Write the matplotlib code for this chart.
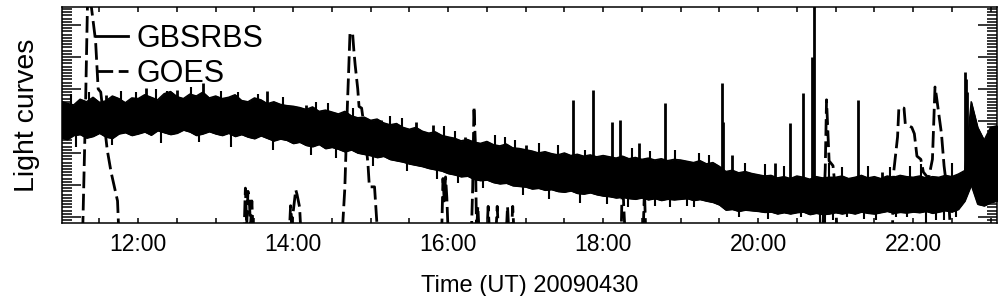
import numpy as np
import pandas as pd
import matplotlib
matplotlib.use("Agg")
import matplotlib.pyplot as plt
import matplotlib.dates as mdates
import matplotlib.ticker as mticker
from matplotlib.lines import Line2D

plt.rcParams['font.family'] = ['Liberation Sans', 'DejaVu Sans']

DAY = "2009-04-30 "

def tm(lst):
    return pd.to_datetime([DAY + s for s in lst])

# GBSRBS: band envelope sampled every 5 min (11:00 .. 23:05), arbitrary units
gbs_time = pd.date_range(DAY + "11:00", DAY + "23:05", freq="5min")
gbs_hi = [
    3.62, 3.55, 3.50, 3.68, 3.60, 3.74, 3.58, 3.63, 3.78, 3.70, 3.57, 3.72,
    3.70, 3.82, 3.74, 3.66, 3.85, 3.92, 3.76, 3.70, 3.84, 3.78, 3.90, 3.72,
    3.78, 3.70, 3.74, 3.82, 3.64, 3.60, 3.72, 3.66, 3.54, 3.60, 3.52, 3.48,
    3.46, 3.42, 3.36, 3.44, 3.30, 3.34, 3.28, 3.22, 3.30, 3.16, 3.10, 3.12,
    3.02, 3.06, 2.94, 2.88, 2.92, 2.80, 2.74, 2.80, 2.68, 2.62, 2.66, 2.55,
    2.50, 2.46, 2.38, 2.42, 2.34, 2.30, 2.36, 2.26, 2.22, 2.28, 2.16, 2.14,
    2.10, 2.06, 2.00, 2.04, 1.98, 1.94, 2.00, 1.92, 1.96, 1.90, 1.94, 1.88,
    1.92, 1.88, 1.84, 1.90, 1.82, 1.86, 1.80, 1.84, 1.78, 1.82, 1.76, 1.80,
    1.78, 1.74, 1.70, 1.76, 1.66, 1.70, 1.58, 1.42, 1.46, 1.38, 1.42, 1.36,
    1.32, 1.28, 1.30, 1.22, 1.26, 1.20, 1.28, 1.24, 1.18, 1.26, 1.22, 1.24,
    1.24, 1.28, 1.20, 1.24, 1.30, 1.22, 1.26, 1.20, 1.28, 1.24, 1.30, 1.26,
    1.24, 1.28, 1.22, 1.26, 1.24, 1.30, 1.26, 1.34, 1.45, 3.60, 2.80, 2.40,
    2.80, 2.85,
]
gbs_lo = [
    2.48, 2.42, 2.55, 2.58, 2.47, 2.52, 2.62, 2.50, 2.46, 2.60, 2.64, 2.55,
    2.60, 2.66, 2.56, 2.70, 2.64, 2.58, 2.62, 2.72, 2.66, 2.55, 2.60, 2.67,
    2.60, 2.55, 2.62, 2.52, 2.58, 2.50, 2.45, 2.54, 2.46, 2.38, 2.44, 2.40,
    2.30, 2.34, 2.24, 2.20, 2.27, 2.14, 2.18, 2.12, 2.04, 2.10, 2.00, 1.96,
    1.92, 1.86, 1.90, 1.80, 1.76, 1.72, 1.66, 1.62, 1.58, 1.52, 1.48, 1.44,
    1.36, 1.32, 1.26, 1.28, 1.18, 1.14, 1.16, 1.08, 1.04, 1.06, 0.98, 0.96,
    0.94, 0.88, 0.90, 0.84, 0.86, 0.80, 0.78, 0.82, 0.74, 0.72, 0.76, 0.70,
    0.66, 0.64, 0.60, 0.62, 0.58, 0.56, 0.60, 0.54, 0.58, 0.52, 0.56, 0.54,
    0.56, 0.58, 0.52, 0.55, 0.50, 0.46, 0.38, 0.22, 0.24, 0.18, 0.22, 0.20,
    0.18, 0.15, 0.16, 0.10, 0.14, 0.10, 0.14, 0.16, 0.08, 0.12, 0.08, 0.10,
    0.14, 0.10, 0.14, 0.10, 0.16, 0.12, 0.10, 0.14, 0.18, 0.12, 0.15, 0.13,
    0.16, 0.14, 0.18, 0.12, 0.16, 0.20, 0.16, 0.24, 0.50, 1.00, 0.40, 0.35,
    0.45, 0.50,
]

# GBSRBS large spikes (time, from, to)
spike_time = ["11:35", "12:06", "12:30", "12:50", "13:40", "14:10", "15:08",
              "15:35", "15:48", "16:13", "17:00", "17:37", "17:52", "18:07",
              "18:13", "18:28", "18:48", "19:32", "19:33", "19:40", "20:13",
              "20:25", "20:35", "20:42", "20:43", "21:17", "21:36", "22:40",
              "22:41", "22:42"]
spike_base = [3.0, 3.1, 3.1, 3.1, 3.0, 2.8, 2.4, 2.2, 2.0, 1.8, 1.5, 1.3,
              1.3, 1.2, 1.2, 1.2, 1.1, 0.8, 0.8, 0.8, 0.7, 0.7, 0.7, 0.7,
              0.7, 0.7, 0.7, 0.8, 0.8, 1.0]
spike_top = [3.80, 4.03, 3.97, 4.19, 3.95, 3.50, 3.03, 2.97, 2.88, 2.50,
             2.25, 3.66, 3.97, 2.97, 3.03, 2.31, 3.56, 4.19, 2.97, 1.94,
             1.69, 2.94, 3.88, 5.00, 6.90, 3.66, 1.40, 4.53, 4.30, 3.90]

# GBSRBS small noise bumps above the band
bump_time = ["11:08", "11:22", "11:47", "11:58", "12:14", "12:22", "12:41",
             "13:04", "13:17", "13:33", "13:52", "14:18", "14:27", "14:46",
             "15:15", "15:24", "15:57", "16:05", "16:36", "16:44", "16:52",
             "17:10", "17:25", "17:46", "18:22", "18:36", "18:56", "19:14",
             "19:22", "19:50", "20:05", "20:20", "20:55", "21:05", "21:25",
             "21:42", "21:58", "22:06", "22:30"]
bump_base = [3.3, 3.3, 3.3, 3.4, 3.4, 3.4, 3.4, 3.4, 3.3, 3.3, 3.2, 3.1,
             3.0, 2.9, 2.7, 2.6, 2.3, 2.2, 2.0, 1.9, 1.9, 1.8, 1.7, 1.6,
             1.6, 1.5, 1.5, 1.4, 1.4, 1.0, 1.0, 1.0, 1.0, 1.0, 1.0, 1.0,
             1.0, 1.0, 1.0]
bump_top = [3.85, 3.90, 3.95, 3.90, 4.00, 3.95, 4.05, 3.95, 3.90, 3.85,
            3.75, 3.60, 3.55, 3.40, 3.15, 3.10, 2.85, 2.70, 2.55, 2.50,
            2.40, 2.30, 2.25, 2.10, 2.15, 2.05, 2.10, 2.00, 1.95, 1.70,
            1.65, 1.60, 1.70, 1.55, 1.60, 1.55, 1.60, 1.65, 1.70]

# GBSRBS downward dips
dip_time = ["11:12", "11:40", "12:18", "12:47", "13:12", "13:44", "14:14",
            "14:33", "15:02", "15:28", "15:51", "16:08", "16:27", "16:58",
            "17:18", "17:42", "18:03", "18:19", "18:40", "18:52", "19:05",
            "19:10", "19:45", "20:08", "20:33", "20:48", "20:52", "20:58",
            "21:09", "21:22", "21:31", "21:47", "21:55", "22:10", "22:18",
            "22:24", "22:33"]
dip_bottom = [2.20, 2.25, 2.30, 2.35, 2.20, 2.10, 1.95, 1.85, 1.60, 1.45,
              1.20, 1.05, 0.90, 0.70, 0.55, 0.45, 0.40, 0.30, 0.35, 0.30,
              0.35, 0.30, 0.00, -0.05, 0.00, -0.20, -0.20, -0.10, 0.00,
              -0.05, -0.10, 0.00, 0.00, -0.20, -0.10, -0.10, 0.00]
dip_top = [2.7, 2.7, 2.8, 2.8, 2.7, 2.6, 2.5, 2.4, 2.1, 1.9, 1.7, 1.5,
           1.4, 1.1, 1.0, 0.9, 0.8, 0.8, 0.8, 0.8, 0.8, 0.8, 0.5, 0.5,
           0.5, 0.5, 0.5, 0.5, 0.5, 0.5, 0.5, 0.5, 0.5, 0.5, 0.5, 0.5, 0.5]

# GOES (values below the plot range are off scale)
goes_time = ["11:00", "11:17", "11:19", "11:21", "11:23", "11:27", "11:29",
             "11:31", "11:36", "11:39", "11:44", "11:45",
             "13:22", "13:23", "13:24", "13:25", "13:26", "13:27", "13:28", "13:29",
             "13:57", "13:58", "13:59", "14:01", "14:02", "14:03", "14:05", "14:06",
             "14:38", "14:40", "14:42", "14:43", "14:44", "14:46", "14:47", "14:48",
             "14:50", "14:51", "14:53", "14:56", "14:58", "14:59", "15:03", "15:05",
             "15:06",
             "15:55", "15:56", "15:57", "15:58", "15:59", "16:00",
             "16:18", "16:19", "16:20", "16:21", "16:22", "16:23", "16:24",
             "16:30", "16:31", "16:32", "16:37", "16:38", "16:39",
             "16:45", "16:46", "16:47", "16:49", "16:50", "16:51",
             "18:14", "18:15", "18:16", "18:17", "18:31", "18:32", "18:33",
             "20:50", "20:52", "20:53", "20:55", "20:58", "21:00", "21:01",
             "21:44", "21:45", "21:48", "21:49", "21:53", "21:54", "21:59",
             "22:01", "22:03", "22:06", "22:08", "22:12", "22:15", "22:17",
             "22:18", "22:20", "22:22", "22:24", "22:27", "22:28", "22:29",
             "23:05"]
goes_val = [-0.5, -0.5, 3.0, 7.2, 6.8, 5.5, 4.0,
            3.9, 2.1, 1.4, 0.5, -0.5,
            -0.5, 0.9, -0.3, 0.8, 0.55, -0.3, 0.5, -0.5,
            -0.5, 0.35, -0.2, 0.5, 0.85, 0.7, 0.3, -0.5,
            -0.5, 0.9, 3.5, 4.6, 5.75, 5.75, 5.2, 4.75,
            4.0, 3.45, 3.4, 2.5, 1.6, 0.94, 0.94, -0.3,
            -0.5,
            -0.5, 1.2, 0.5, 1.25, 0.6, -0.5,
            -0.5, 0.9, 3.45, 2.4, -0.5, 0.33, -0.5,
            -0.5, 0.33, -0.5, -0.5, 0.33, -0.5,
            -0.5, 0.33, -0.5, -0.5, 0.33, -0.5,
            -0.5, 1.4, 0.3, -0.5, -0.5, 0.85, -0.5,
            -0.5, 1.5, 3.66, 1.75, 1.6, 0.8, -0.5,
            -0.5, 1.4, 2.5, 3.4, 3.4, 2.9, 2.8,
            2.6, 1.9, 1.8, 1.4, 1.2, 1.8, 4.06,
            3.8, 3.2, 2.6, 1.6, 0.6, 0.25, -0.5,
            -0.5]

fig = plt.figure(figsize=(10.04, 2.96), dpi=100)
ax = fig.add_axes([62 / 1004, 73 / 296, 935 / 1004, 216 / 296])

ax.fill_between(gbs_time, gbs_lo, gbs_hi, color="k", lw=0.8)
ax.plot(gbs_time, gbs_hi, color="k", lw=1)
ax.plot(gbs_time, gbs_lo, color="k", lw=1)
ax.vlines(tm(spike_time), spike_base, spike_top, colors="k", lw=2)
ax.vlines(tm(bump_time), bump_base, bump_top, colors="k", lw=1.5)
ax.vlines(tm(dip_time), dip_bottom, dip_top, colors="k", lw=1.5)
ax.plot(tm(goes_time), goes_val, color="k", lw=2, linestyle=(0, (6, 2)))

ax.set_xlim(pd.Timestamp(DAY + "11:01"), pd.Timestamp(DAY + "23:05"))
ax.set_ylim(-0.19, 6.56)

ax.xaxis.set_major_locator(mdates.HourLocator(byhour=range(12, 23, 2)))
ax.xaxis.set_major_formatter(mdates.DateFormatter("%H:%M"))
ax.xaxis.set_minor_locator(mdates.MinuteLocator(byminute=[0, 30]))
ax.yaxis.set_major_locator(mticker.MultipleLocator(1))
ax.yaxis.set_minor_locator(mticker.MultipleLocator(0.1))
ax.yaxis.set_major_formatter(mticker.NullFormatter())

ax.tick_params(axis="x", which="both", direction="in", top=True,
               length=3.6, width=1.1, labelsize=16.5, pad=7)
ax.tick_params(axis="y", which="major", direction="in", right=True,
               length=13.7, width=1.1)
ax.tick_params(axis="y", which="minor", direction="in", right=True,
               length=7.2, width=1.1)
for sp in ax.spines.values():
    sp.set_linewidth(1.1)

ax.set_xlabel("Time (UT) 20090430", fontsize=17, labelpad=14)
ax.set_ylabel("Light curves", fontsize=20.5, labelpad=12)

handles = [Line2D([], [], color="k", lw=2),
           Line2D([], [], color="k", lw=2, linestyle=(0, (6, 2)))]
ax.legend(handles, ["GBSRBS", "GOES"], loc="upper left",
          bbox_to_anchor=(0.036, 0.923), frameon=False, fontsize=22,
          handlelength=1.05, handletextpad=0.3, labelspacing=0.17,
          borderaxespad=0, borderpad=0)

fig.savefig("out.png", dpi=100)
